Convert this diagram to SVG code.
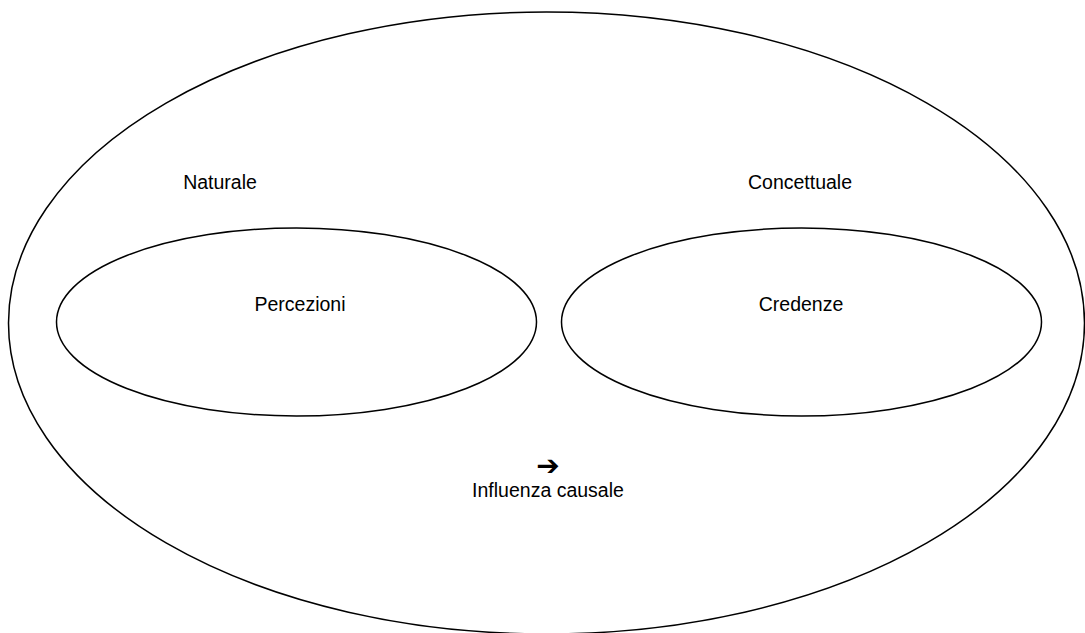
<svg xmlns="http://www.w3.org/2000/svg" width="1085" height="633" viewBox="0 0 1085 633">
<style>
.e{fill:none;stroke:#000;stroke-width:1.5}
.t{font-family:"Liberation Sans",Arial,sans-serif;font-size:19.5px;fill:#000;text-anchor:middle}
.a{font-family:"DejaVu Sans",sans-serif;font-size:28px;font-weight:bold;fill:#000;text-anchor:middle}
</style>
<rect width="1085" height="633" fill="#fff"/>
<g id="outer">
<ellipse class="e" cx="546.5" cy="323" rx="538" ry="311"/>
<text class="t" x="220" y="189">Naturale</text>
<text class="t" x="800" y="189">Concettuale</text>
</g>
<g id="percezioni">
<ellipse class="e" cx="296.5" cy="322" rx="240" ry="94"/>
<text class="t" x="300" y="311">Percezioni</text>
</g>
<g id="credenze">
<ellipse class="e" cx="801.5" cy="322" rx="240" ry="94"/>
<text class="t" x="801" y="311">Credenze</text>
</g>
<g id="connectors">
<text class="a" x="548" y="475">➔</text>
<text class="t" x="548" y="497">Influenza causale</text>
</g>
</svg>
